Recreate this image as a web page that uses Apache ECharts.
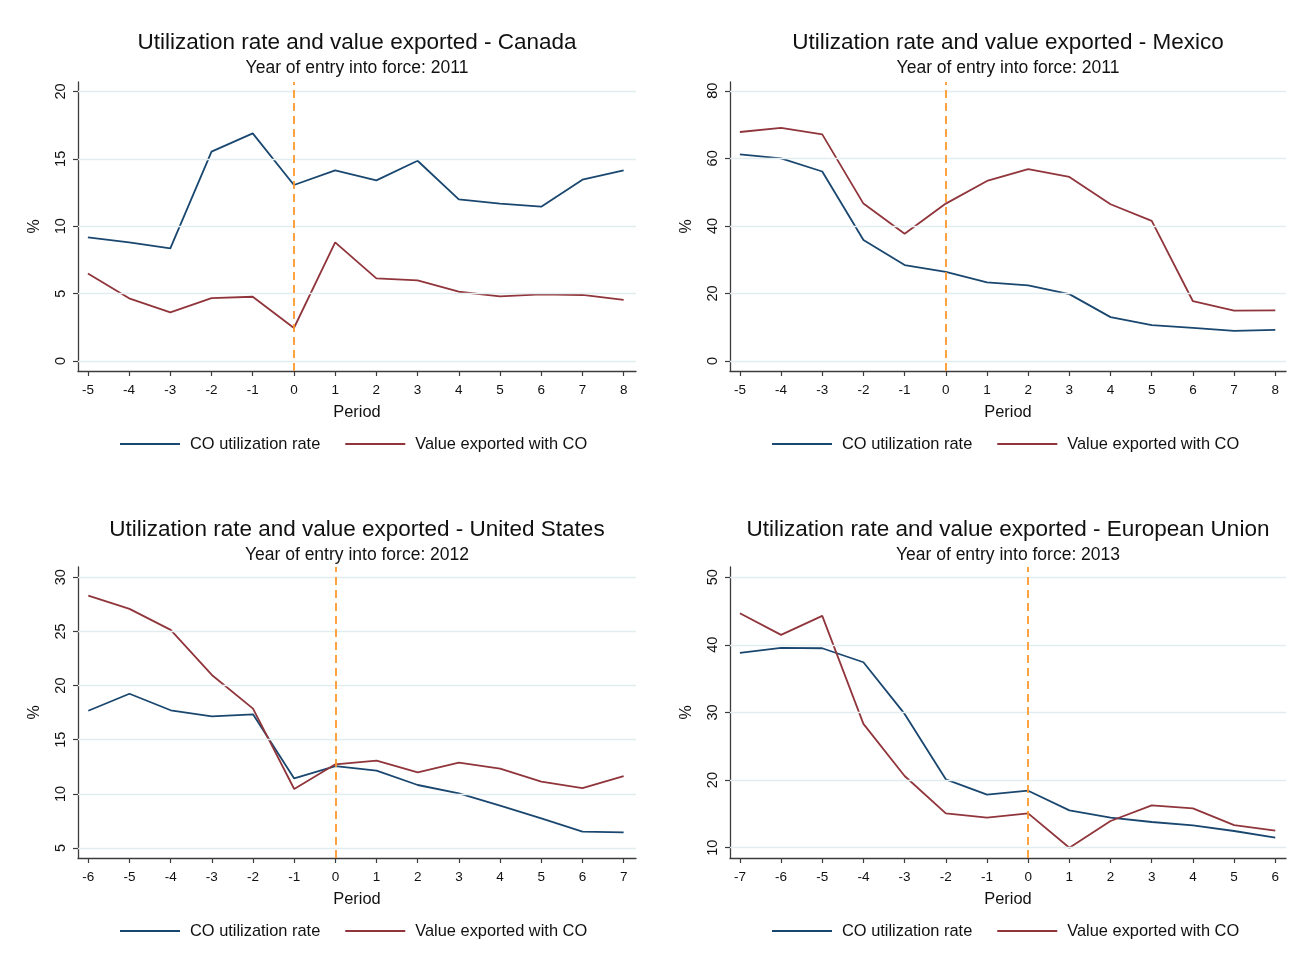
<!DOCTYPE html>
<html>
<head>
<meta charset="utf-8">
<script src="https://cdn.jsdelivr.net/npm/echarts@6/dist/echarts.min.js"></script>
<style>
  html, body { margin: 0; padding: 0; background: #ffffff; }
  #chart { width: 1289px; height: 963px; }
</style>
</head>
<body>
<div id="chart"></div>
<script>
// Periods are years relative to the year the agreement entered into force (0).
const canadaPeriods = [-5, -4, -3, -2, -1, 0, 1, 2, 3, 4, 5, 6, 7, 8];
const canadaUtilization = [9.17, 8.80, 8.36, 15.53, 16.89, 13.06, 14.14, 13.40, 14.86, 11.99, 11.67, 11.45, 13.45, 14.14];
const canadaValueExported = [6.50, 4.65, 3.61, 4.67, 4.77, 2.45, 8.80, 6.13, 5.98, 5.14, 4.80, 4.95, 4.90, 4.53];
const canadaYTicks = [0, 5, 10, 15, 20];

const mexicoPeriods = [-5, -4, -3, -2, -1, 0, 1, 2, 3, 4, 5, 6, 7, 8];
const mexicoUtilization = [61.2, 60.0, 56.1, 35.8, 28.4, 26.4, 23.3, 22.4, 19.8, 13.0, 10.6, 9.8, 8.9, 9.2];
const mexicoValueExported = [67.8, 69.0, 67.1, 46.6, 37.7, 46.6, 53.3, 56.8, 54.5, 46.4, 41.5, 17.7, 14.9, 15.0];
const mexicoYTicks = [0, 20, 40, 60, 80];

const usPeriods = [-6, -5, -4, -3, -2, -1, 0, 1, 2, 3, 4, 5, 6, 7];
const usUtilization = [17.68, 19.25, 17.72, 17.16, 17.35, 11.43, 12.57, 12.14, 10.82, 10.05, 8.91, 7.74, 6.51, 6.45];
const usValueExported = [28.31, 27.08, 25.14, 20.98, 17.87, 10.45, 12.73, 13.07, 11.99, 12.88, 12.33, 11.13, 10.54, 11.65];
const usYTicks = [5, 10, 15, 20, 25, 30];

const euPeriods = [-7, -6, -5, -4, -3, -2, -1, 0, 1, 2, 3, 4, 5, 6];
const euUtilization = [38.80, 39.54, 39.49, 37.42, 29.78, 20.11, 17.84, 18.43, 15.52, 14.44, 13.80, 13.30, 12.47, 11.48];
const euValueExported = [44.67, 41.47, 44.28, 28.30, 20.60, 15.08, 14.44, 15.08, 10.00, 13.95, 16.26, 15.82, 13.35, 12.52];
const euYTicks = [10, 20, 30, 40, 50];

const seriesNames = ['CO utilization rate', 'Value exported with CO'];
const titlePrefix = 'Utilization rate and value exported - ';
const entryLabel = 'Year of entry into force: ';

// Panel layout: plot region in pixels, title row and the padded axis ranges.
const panels = [
  { country: 'Canada', year: 2011, periods: canadaPeriods, util: canadaUtilization, value: canadaValueExported, yTicks: canadaYTicks,
    titleY: 42, left: 78, right: 636, top: 82, bottom: 371, xMin: -5.24, xMax: 8.30, yMin: -0.74, yMax: 20.70 },
  { country: 'Mexico', year: 2011, periods: mexicoPeriods, util: mexicoUtilization, value: mexicoValueExported, yTicks: mexicoYTicks,
    titleY: 42, left: 730, right: 1286, top: 82, bottom: 371, xMin: -5.24, xMax: 8.26, yMin: -2.96, yMax: 82.6 },
  { country: 'United States', year: 2012, periods: usPeriods, util: usUtilization, value: usValueExported, yTicks: usYTicks,
    titleY: 529, left: 78, right: 636, top: 567, bottom: 858, xMin: -6.25, xMax: 7.30, yMin: 4.08, yMax: 30.95 },
  { country: 'European Union', year: 2013, periods: euPeriods, util: euUtilization, value: euValueExported, yTicks: euYTicks,
    titleY: 529, left: 730, right: 1286, top: 567, bottom: 858, xMin: -7.24, xMax: 6.26, yMin: 8.48, yMax: 51.5 }
];

const FONT = "'Liberation Sans', Arial, sans-serif";
const BLUE = '#1a476f';
const RED = '#90353b';
const ORANGE = '#ff9a2e';
const GRID_LINE = '#e3edef';
const AXIS_LINE = '#3c3c3c';
const TEXT = '#111111';

const option = {
  backgroundColor: '#ffffff',
  animation: false,
  title: [],
  legend: [],
  grid: [],
  xAxis: [],
  yAxis: [],
  series: []
};

panels.forEach((p, i) => {
  const cx = (p.left + p.right) / 2;

  option.title.push({
    text: titlePrefix + p.country,
    left: cx, top: p.titleY - 11, padding: 0, textAlign: 'center',
    textStyle: { fontFamily: FONT, fontSize: 22.5, fontWeight: 'normal', color: TEXT }
  });
  option.title.push({
    text: entryLabel + p.year,
    left: cx, top: p.titleY + 17, padding: 0, textAlign: 'center',
    textStyle: { fontFamily: FONT, fontSize: 17.5, fontWeight: 'normal', color: TEXT }
  });

  option.legend.push({
    data: seriesNames,
    left: p.left + 42, top: p.bottom + 65, padding: 0,
    icon: 'rect', itemWidth: 60, itemHeight: 2, itemGap: 25,
    selectedMode: false,
    textStyle: { fontFamily: FONT, fontSize: 16.4, color: TEXT, padding: [0, 0, 0, 5] }
  });

  option.grid.push({
    left: p.left, top: p.top, width: p.right - p.left, height: p.bottom - p.top,
    outerBoundsMode: 'none', containLabel: false
  });

  option.xAxis.push({
    type: 'value', gridIndex: i, min: p.xMin, max: p.xMax,
    name: 'Period', nameLocation: 'middle', nameGap: 33,
    nameTextStyle: { fontFamily: FONT, fontSize: 16.4, color: TEXT },
    axisLine: { show: true, onZero: false, lineStyle: { color: AXIS_LINE, width: 1.3 } },
    axisTick: { show: true, length: 5, customValues: p.periods, lineStyle: { color: AXIS_LINE, width: 1.2 } },
    axisLabel: { customValues: p.periods, margin: 12, fontFamily: FONT, fontSize: 13.5, color: TEXT },
    splitLine: { show: false }
  });

  option.yAxis.push({
    type: 'value', gridIndex: i, min: p.yMin, max: p.yMax,
    name: '%', nameLocation: 'middle', nameGap: 35, nameRotate: 90,
    nameTextStyle: { fontFamily: FONT, fontSize: 16, color: TEXT },
    axisLine: { show: true, onZero: false, lineStyle: { color: AXIS_LINE, width: 1.3 } },
    axisTick: { show: true, length: 5, customValues: p.yTicks, lineStyle: { color: AXIS_LINE, width: 1.2 } },
    axisLabel: { customValues: p.yTicks, rotate: 90, margin: 10, fontFamily: FONT, fontSize: 14.5, color: TEXT },
    splitLine: { show: false }
  });

  // Horizontal gridlines at the labelled values
  option.series.push({
    name: 'gridlines-' + i, type: 'line', xAxisIndex: i, yAxisIndex: i, data: [], z: 1, silent: true,
    markLine: {
      silent: true, symbol: 'none', animation: false, label: { show: false },
      lineStyle: { color: GRID_LINE, width: 1.4, type: 'solid' },
      data: p.yTicks.map(v => ({ yAxis: v }))
    }
  });

  // Year of entry into force
  option.series.push({
    name: 'entry-' + i, type: 'line', xAxisIndex: i, yAxisIndex: i, data: [], z: 2, silent: true,
    markLine: {
      silent: true, symbol: 'none', animation: false, label: { show: false },
      lineStyle: { color: ORANGE, width: 1.8, type: [8, 5] },
      data: [{ xAxis: 0 }]
    }
  });

  option.series.push({
    name: seriesNames[0], type: 'line', xAxisIndex: i, yAxisIndex: i, z: 3,
    showSymbol: false, symbol: 'none', color: BLUE,
    lineStyle: { color: BLUE, width: 1.8 },
    data: p.periods.map((x, k) => [x, p.util[k]])
  });
  option.series.push({
    name: seriesNames[1], type: 'line', xAxisIndex: i, yAxisIndex: i, z: 3,
    showSymbol: false, symbol: 'none', color: RED,
    lineStyle: { color: RED, width: 1.8 },
    data: p.periods.map((x, k) => [x, p.value[k]])
  });
});

const chart = echarts.init(document.getElementById('chart'), null, { renderer: 'canvas' });
chart.setOption(option);
</script>
</body>
</html>
